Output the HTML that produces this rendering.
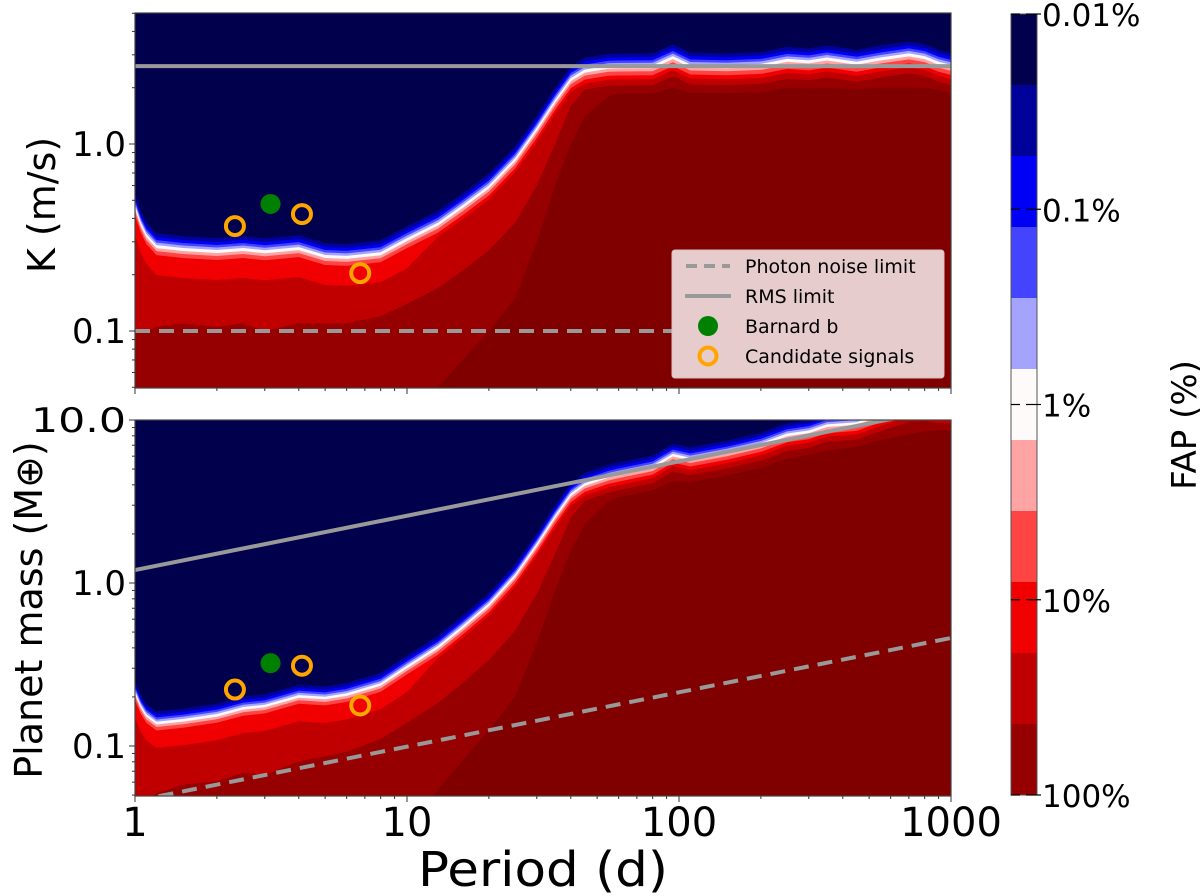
<!DOCTYPE html>
<html><head><meta charset="utf-8">
<style>
html,body{margin:0;padding:0;background:#fff;}
svg{display:block;font-family:"DejaVu Sans","Liberation Sans",sans-serif;}
</style></head>
<body>
<svg id="chart" width="1200" height="896" viewBox="0 0 1200 896" xmlns="http://www.w3.org/2000/svg">
<defs>
<clipPath id="clipTop"><rect x="135" y="13" width="816" height="375"/></clipPath>
<clipPath id="clipBot"><rect x="135" y="420" width="816" height="376"/></clipPath>
</defs>
<g id="topPanel"></g>
<g id="botPanel"></g>
<g id="cbar"></g>
<text x="0" y="0" transform="translate(55,205) rotate(-90)" text-anchor="middle" font-size="38">K (m/s)</text>
<text x="0" y="0" transform="translate(42,610) rotate(-90)" text-anchor="middle" font-size="38">Planet mass (M⊕)</text>
<text x="543" y="886" text-anchor="middle" font-size="48" textLength="250" lengthAdjust="spacingAndGlyphs">Period (d)</text>
<text x="0" y="0" transform="translate(1196,425) rotate(-90)" text-anchor="middle" font-size="34">FAP (%)</text>
</svg>
<script>
// ---- data ----
const periods = [1,1.05,1.1,1.2,1.5,2,2.5,3,4,5,6,8,10,13,16,20,25,30,35,40,45,55,60,80,95,110,150,200,250,300,350,450,550,700,800,900,1000];
const kWhite  = [0.47,0.38,0.33,0.288,0.278,0.271,0.278,0.27,0.281,0.255,0.252,0.264,0.314,0.38,0.47,0.60,0.84,1.22,1.72,2.25,2.5,2.62,2.63,2.64,2.95,2.66,2.64,2.68,2.85,2.8,2.9,2.75,2.9,3.05,2.95,2.75,2.65];
const kRed    = [0.1,0.1,0.1,0.105,0.11,0.105,0.11,0.1,0.11,0.11,0.11,0.12,0.14,0.17,0.21,0.27,0.38,0.6,1.0,1.6,2.1,2.3,2.35,2.4,2.4,2.4,2.4,2.4,2.4,2.4,2.4,2.4,2.4,2.4,2.4,2.4,2.4];
const kDark   = [0.03,0.03,0.03,0.03,0.03,0.03,0.03,0.03,0.03,0.03,0.03,0.03,0.035,0.05,0.07,0.1,0.15,0.3,0.6,1.0,1.4,1.8,1.9,2.0,2.0,2.0,2.0,2.0,2.0,2.0,2.0,2.0,2.0,2.0,2.0,2.0,2.0];
const rmsK = 2.61;
const photonK = 0.1;
const massFactor = 0.46;
const barnardP = [3.15];
const barnardK = [0.478];
const candP = [2.33,4.11,6.73];
const candK = [0.364,0.422,0.204];
const cbarLevels = ['0.01%','0.1%','1%','10%','100%'];
const cbarColors = ['#00004c','#00009a','#0000f5','#4444ff','#a4a4ff','#fffafa','#ffa4a4','#ff4444','#f00000','#c00000','#960000'];

// ---- scales ----
const NS='http://www.w3.org/2000/svg';
const X0=135, PXD=272;
const xS = p => X0 + PXD*Math.log10(p);
const yTop = k => 144 - 187*Math.log10(k);
const yBot = m => 420 + 163*(1 - Math.log10(m));
const mass = (k,p) => massFactor*k*Math.cbrt(p);
function el(tag, attrs, parent){const e=document.createElementNS(NS,tag);for(const a in attrs)e.setAttribute(a,attrs[a]);parent.appendChild(e);return e;}

const bandOffsets=[-12,-8,-5,-2.5,0,3,6,10];
const bandColors=['#00009a','#0000f5','#4444ff','#a4a4ff','#fffafa','#ffa4a4','#ff4444','#f00000'];

function drawPanel(g, clip, yf, scale, yBottom, isMass){
  const c=el('g',{'clip-path':'url(#'+clip+')'},g);
  const bg=el('rect',{x:135,y:0,width:816,height:900,fill:'#00004c'},c);
  
  
  const yv=(k,i)=>yf(isMass?mass(k,periods[i]):k);
  const poly=(ys,color,name)=>{
    let d='M'+xS(periods[0])+','+ys[0];
    for(let i=1;i<periods.length;i++) d+=' L'+xS(periods[i]).toFixed(1)+','+ys[i].toFixed(1);
    d+=' L951,'+ys[ys.length-1].toFixed(1)+' L951,'+(yBottom+20)+' L135,'+(yBottom+20)+' Z';
    const p=el('path',{d:d,fill:color},c);
    
    
  };
  const wy=kWhite.map((k,i)=>yv(k,i));
  bandOffsets.forEach((o,j)=>poly(wy.map(y=>y+o*scale),bandColors[j],'fap-band-'+j));
  poly(wy.map((y,i)=>y+(periods[i]<12?30:14)*scale),'#c00000','fap-band-mid');
  poly(kRed.map((k,i)=>Math.max(yv(k,i),wy[i]+(periods[i]<12?45:20)*scale)),'#960000','fap-band-deep');
  poly(kDark.map((k,i)=>Math.max(yv(k,i),wy[i]+28*scale)),'#800000','fap-band-deepest');
  const rl=el('line',{x1:xS(1),y1:yf(isMass?mass(rmsK,1):rmsK),x2:xS(1000),y2:yf(isMass?mass(rmsK,1000):rmsK),stroke:'#999',"stroke-width":4},c);
  
  
  const pl=el('line',{x1:xS(1),y1:yf(isMass?mass(photonK,1):photonK),x2:xS(1000),y2:yf(isMass?mass(photonK,1000):photonK),stroke:'#999',"stroke-width":4,"stroke-dasharray":"15,9"},c);
  
  
  barnardP.forEach((p,i)=>{
    const m=el('circle',{cx:xS(p),cy:yf(isMass?mass(barnardK[i],p):barnardK[i]),r:10,fill:'#008000'},c);
    
    
  });
  candP.forEach((p,i)=>{
    const m=el('circle',{cx:xS(p),cy:yf(isMass?mass(candK[i],p):candK[i]),r:9,fill:'none',stroke:'#ffa500',"stroke-width":4},c);
    
    
  });
  const fr=el('rect',{x:135,y:isMass?420:13,width:816,height:isMass?376:375,fill:'none',stroke:'#444',"stroke-width":1.2},g);
  
  
  for(let d=0;d<3;d++)for(let m=1;m<10;m++){
    const p=Math.pow(10,d)*m; const x=xS(p);
    el('line',{x1:x,y1:yBottom,x2:x,y2:yBottom+(m===1?6:3),stroke:'#333',"stroke-width":1},g);
  }
  el('line',{x1:xS(1000),y1:yBottom,x2:xS(1000),y2:yBottom+6,stroke:'#333',"stroke-width":1},g);
}

const topG=document.getElementById('topPanel');
const botG=document.getElementById('botPanel');
drawPanel(topG,'clipTop',yTop,1,388,false);
drawPanel(botG,'clipBot',yBot,163/187,796,true);

function yTicks(g,yf,lo,hi,labels){
  for(let d=-2;d<=1;d++)for(let m=1;m<10;m++){
    const v=Math.pow(10,d)*m; if(v<lo-1e-9||v>hi+1e-9)continue;
    const y=yf(v);
    el('line',{x1:135,y1:y,x2:135-(m===1?6:3),y2:y,stroke:'#333',"stroke-width":1},g);
  }
  labels.forEach(l=>{
    const t=el('text',{x:126,y:yf(l.v)+12,"text-anchor":"end","font-size":34,"textLength":(l.t.length===4?95:54),"lengthAdjust":"spacingAndGlyphs"},g);
    t.textContent=l.t;
    
    
  });
}
yTicks(topG,yTop,0.05,5,[{v:0.1,t:'0.1'},{v:1,t:'1.0'}]);
yTicks(botG,yBot,0.05,10,[{v:0.1,t:'0.1'},{v:1,t:'1.0'},{v:10,t:'10.0'}]);
const xLabels=['1','10','100','1000'];
xLabels.forEach((t,i)=>{
  const tx=el('text',{x:xS(Math.pow(10,i)),y:836,"text-anchor":"middle","font-size":40},botG);
  tx.textContent=t;
  
  
});

const lg=el('g',{},topG);


el('rect',{x:672,y:250,width:272,height:128,rx:3,fill:'#e6cccc',stroke:'#d8c0c0'},lg);
const le=[['Photon noise limit','dash'],['RMS limit','line'],['Barnard b','dot'],['Candidate signals','ring']];
le.forEach((e,i)=>{
  const y=266+i*30;
  if(e[1]==='dash') el('line',{x1:686,y1:y,x2:730,y2:y,stroke:'#999',"stroke-width":4,"stroke-dasharray":"11,7"},lg);
  if(e[1]==='line') el('line',{x1:685,y1:y,x2:731,y2:y,stroke:'#999',"stroke-width":4},lg);
  if(e[1]==='dot') el('circle',{cx:708,cy:y,r:10,fill:'#008000'},lg);
  if(e[1]==='ring') el('circle',{cx:708,cy:y,r:8.5,fill:'none',stroke:'#ffa500',"stroke-width":4},lg);
  const t=el('text',{x:745,y:y+7,"font-size":19},lg);
  t.textContent=e[0];
  
  
});

const cb=document.getElementById('cbar');
const cTop=14,cBot=795,cx=1011,cw=26;
const bh=(cBot-cTop)/cbarColors.length;
cbarColors.forEach((col,i)=>{
  const r=el('rect',{x:cx,y:cTop+i*bh,width:cw,height:bh+0.5,fill:col},cb);
  
  
});
el('rect',{x:cx,y:cTop,width:cw,height:cBot-cTop,fill:'none',stroke:'#555',"stroke-width":1},cb);
cbarLevels.forEach((l,i)=>{
  const y=cTop+i*(cBot-cTop)/4;
  el('line',{x1:cx,y1:y,x2:cx+9,y2:y,stroke:'#000',"stroke-width":1.2},cb);
  el('line',{x1:cx+15,y1:y,x2:cx+cw+4,y2:y,stroke:'#000',"stroke-width":1.2},cb);
  const t=el('text',{x:1042,y:y+12,"font-size":31},cb);
  t.textContent=l;
  
  
});
</script>
</body></html>
